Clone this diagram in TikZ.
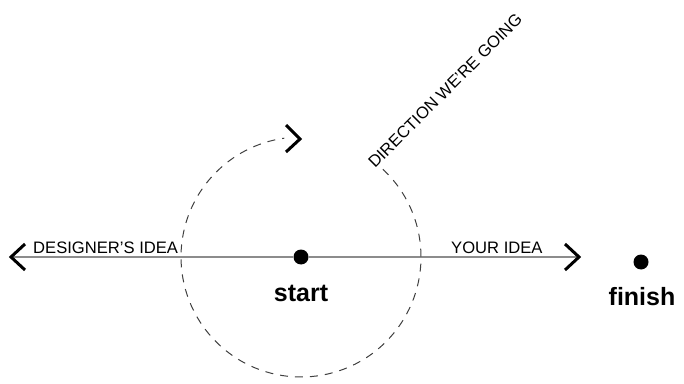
\documentclass[tikz,border=0pt]{standalone}
\usepackage{fontspec}
\setmainfont{Liberation Sans}
\begin{document}
\begin{tikzpicture}[x=1pt,y=1pt,
  chev/.style={line width=3pt, line cap=butt, line join=miter, black},
  axis/.style={line width=1.4pt, black!45},
  dashedarc/.style={line width=1pt, black!75, dash pattern=on 8pt off 7pt},
  dot/.style={circle, fill=black, inner sep=0pt, minimum size=15pt},
  lbl/.style={inner sep=0pt, font=\fontsize{16.6}{19}\selectfont},
  big/.style={inner sep=0pt, font=\fontsize{25}{30}\selectfont\bfseries}]
\useasboundingbox (0,0) rectangle (684,383);
% main axis
\coordinate (ltip) at (11,126);
\coordinate (rtip) at (579,126);
\node[dot] (start) at (301,126) {};
\node[dot] (finish) at (641,121) {};
\draw[axis] (ltip) -- (start) -- (rtip);
% chevrons
\draw[chev] (25,139) -- (ltip) -- (25,113);
\draw[chev] (565,139) -- (rtip) -- (565,113);
\coordinate (ttip) at (300,244);
\draw[chev] (286,258) -- (ttip) -- (286,231);
% dashed arc
\draw[dashedarc] (start.center) ++(47:120) arc[start angle=47, end angle=-262, radius=120];
% labels
\node[lbl, anchor=base west] (designer) at (33,130) {DESIGNER'S IDEA};
\node[lbl, anchor=base west] (your) at (451,130) {YOUR IDEA};
\node[lbl, anchor=base west, rotate=45] (direction) at (375,214) {DIRECTION WE'RE GOING};
\node[big, anchor=base] (starttxt) at (301,82) {start};
\node[big, anchor=base] (finishtxt) at (642,78) {finish};
\end{tikzpicture}
\end{document}
